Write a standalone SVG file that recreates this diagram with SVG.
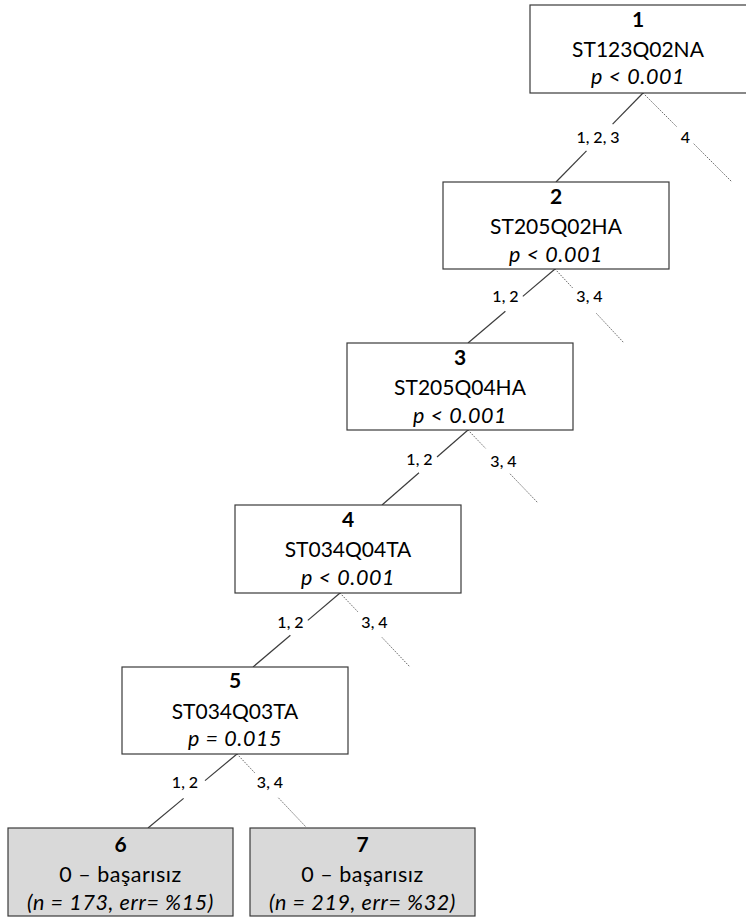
<svg xmlns="http://www.w3.org/2000/svg" width="746" height="917" viewBox="0 0 746 917">
  <style>
    .box { fill: #ffffff; stroke: #3a3a3a; stroke-width: 1.2; }
    .leaf { fill: #d9d9d9; stroke: #3a3a3a; stroke-width: 1.2; }
    text { font-family: Lato, "Open Sans", "Liberation Sans", sans-serif; fill: #000000; text-anchor: middle; }
    .id { font-size: 21px; font-weight: bold; }
    .var { font-size: 21px; }
    .p { font-size: 21.5px; font-style: italic; letter-spacing: 0.6px; }
    .lv { font-size: 21.5px; letter-spacing: 0.5px; }
    .lbl { font-size: 16px; font-weight: 500; }
    .solid { stroke: #3c3c3c; stroke-width: 1.2; fill: none; }
    .dot { stroke: #6a6a6a; stroke-width: 1; stroke-dasharray: 1.5 1.2; fill: none; }
  </style>
  <rect width="746" height="917" fill="#ffffff"/>

  <!-- connectors: solid = categories kept in the tree, dotted = pruned branch -->
  <g id="connectors">
    <line class="solid" x1="643" y1="93" x2="612.6" y2="124.2"/>
    <line class="solid" x1="586.5" y1="150.9" x2="556" y2="182"/>
    <text class="lbl" x="598" y="143">1, 2, 3</text>
    <line class="dot" x1="643" y1="93" x2="676.8" y2="126.8"/>
    <line class="dot" x1="693.7" y1="143.7" x2="732" y2="182"/>
    <text class="lbl" x="685.5" y="143">4</text>

    <line class="solid" x1="555" y1="269" x2="522.8" y2="296.4"/>
    <line class="solid" x1="505.4" y1="311.2" x2="468" y2="343"/>
    <text class="lbl" x="505.5" y="302">1, 2</text>
    <line class="dot" x1="555" y1="269" x2="572.9" y2="288.2"/>
    <line class="dot" x1="596.4" y1="313.4" x2="624" y2="343"/>
    <text class="lbl" x="589.5" y="302">3, 4</text>

    <line class="solid" x1="468" y1="430" x2="437" y2="457"/>
    <line class="solid" x1="419" y1="472.8" x2="382" y2="505"/>
    <text class="lbl" x="419.5" y="465">1, 2</text>
    <line class="dot" x1="468" y1="430" x2="485.5" y2="448.3"/>
    <line class="dot" x1="510" y1="473.8" x2="538" y2="503"/>
    <text class="lbl" x="503.5" y="467">3, 4</text>

    <line class="solid" x1="340" y1="593" x2="307.8" y2="620.4"/>
    <line class="solid" x1="290.4" y1="635.2" x2="253" y2="667"/>
    <text class="lbl" x="290.5" y="627.5">1, 2</text>
    <line class="dot" x1="340" y1="593" x2="358.2" y2="612.2"/>
    <line class="dot" x1="382" y1="637.4" x2="410" y2="667"/>
    <text class="lbl" x="374.5" y="627.5">3, 4</text>

    <line class="solid" x1="237" y1="754" x2="205" y2="780.6"/>
    <line class="solid" x1="183.6" y1="798.4" x2="148" y2="828"/>
    <text class="lbl" x="185" y="788">1, 2</text>
    <line class="dot" x1="237" y1="754" x2="254.9" y2="773"/>
    <line class="dot" x1="278.4" y1="797.8" x2="306" y2="827"/>
    <text class="lbl" x="270" y="788">3, 4</text>
  </g>

  <g id="node1">
    <rect class="box" x="530" y="5" width="226" height="88"/>
    <text class="id" x="638" y="27">1</text>
    <text class="var" x="638" y="57">ST123Q02NA</text>
    <text class="p" x="638" y="84">p &lt; 0.001</text>
  </g>
  <g id="node2">
    <rect class="box" x="443" y="182" width="226" height="87"/>
    <text class="id" x="556" y="204">2</text>
    <text class="var" x="556" y="234">ST205Q02HA</text>
    <text class="p" x="556" y="262">p &lt; 0.001</text>
  </g>
  <g id="node3">
    <rect class="box" x="347" y="343" width="226" height="87"/>
    <text class="id" x="460" y="365">3</text>
    <text class="var" x="460" y="395">ST205Q04HA</text>
    <text class="p" x="460" y="423">p &lt; 0.001</text>
  </g>
  <g id="node4">
    <rect class="box" x="235" y="505" width="226" height="88"/>
    <text class="id" x="348" y="527">4</text>
    <text class="var" x="348" y="557">ST034Q04TA</text>
    <text class="p" x="348" y="585">p &lt; 0.001</text>
  </g>
  <g id="node5">
    <rect class="box" x="122" y="667" width="226" height="87"/>
    <text class="id" x="235" y="688">5</text>
    <text class="var" x="235" y="719">ST034Q03TA</text>
    <text class="p" x="235" y="746">p = 0.015</text>
  </g>
  <g id="node6">
    <rect class="leaf" x="8" y="828" width="225" height="88"/>
    <text class="id" x="120.5" y="852">6</text>
    <text class="lv" x="120.5" y="882">0 – başarısız</text>
    <text class="p" x="120.5" y="910">(n = 173, err= %15)</text>
  </g>
  <g id="node7">
    <rect class="leaf" x="250" y="828" width="225" height="88"/>
    <text class="id" x="362.5" y="852">7</text>
    <text class="lv" x="362.5" y="882">0 – başarısız</text>
    <text class="p" x="362.5" y="910">(n = 219, err= %32)</text>
  </g>
</svg>
